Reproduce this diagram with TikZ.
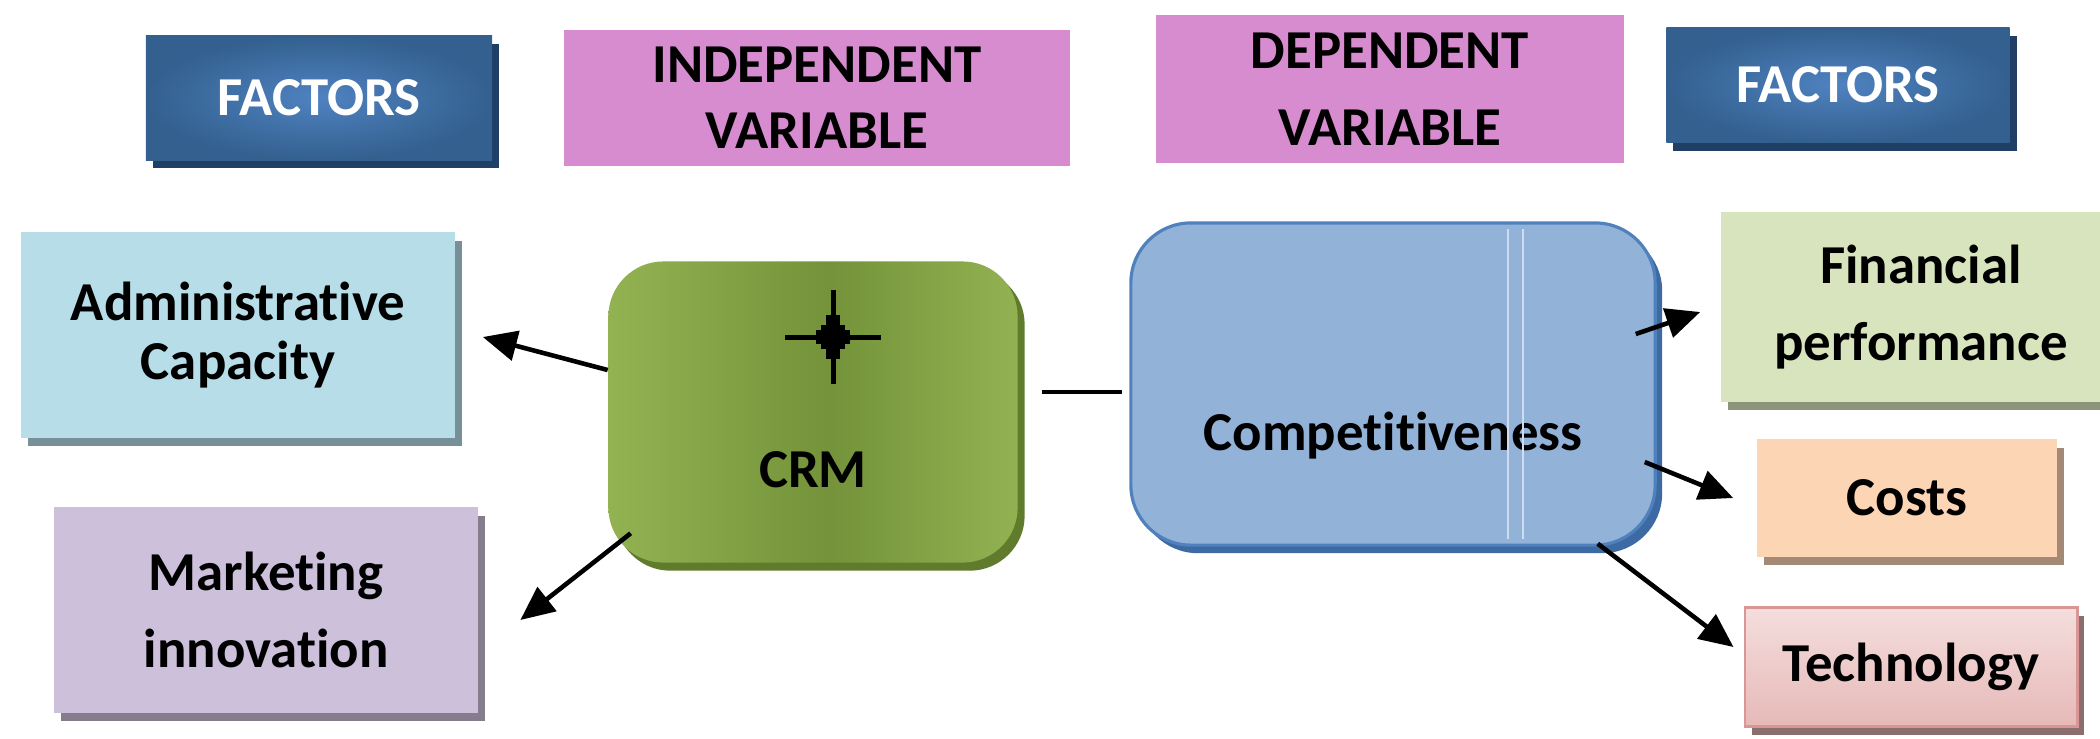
\documentclass[tikz,border=0pt]{standalone}
\usepackage{fontspec}
\setmainfont{Carlito}[Ligatures=NoCommon]
\usepackage{tikz}
\usetikzlibrary{calc,arrows.meta,shadows}
\definecolor{factdark}{HTML}{33608F}
\definecolor{factlight}{HTML}{4F82C0}
\definecolor{factedge}{HTML}{1F3F66}
\definecolor{varpink}{HTML}{D78CD0}
\definecolor{adminblue}{HTML}{B7DDE8}
\definecolor{marklilac}{HTML}{CCC0DA}
\definecolor{crmlight}{HTML}{9BBB59}
\definecolor{crmmid}{HTML}{86A84A}
\definecolor{crmdeep}{HTML}{74933A}
\definecolor{crmdark}{HTML}{5F7B2B}
\definecolor{compblue}{HTML}{93B2D8}
\definecolor{compedge}{HTML}{4F81BD}
\definecolor{compdark}{HTML}{3D6AA3}
\definecolor{fingreen}{HTML}{D7E4BD}
\definecolor{costpeach}{HTML}{FCD5B5}
\definecolor{techpink}{HTML}{E6B9B8}
\definecolor{techlight}{HTML}{F4DEDD}
\definecolor{techedge}{HTML}{D99694}
\pgfdeclarehorizontalshading{crmshade}{100bp}{color(0bp)=(crmmid); color(18bp)=(crmlight); color(52bp)=(crmdeep); color(82bp)=(crmlight); color(100bp)=(crmmid)}
\tikzset{
  lbl/.style={font=\bfseries\fontsize{15.6}{22}\selectfont, align=center, inner sep=0pt},
  shadowed/.style={drop shadow={shadow xshift=2pt, shadow yshift=-2.3pt, fill=#1, opacity=1}},
  factbox/.style={lbl, text=white, inner color=factlight, outer color=factdark, shadowed=factedge},
  varbox/.style={lbl, fill=varpink},
  sidebox/.style={lbl, fill=#1, shadowed=#1!65!black},
  link/.style={line width=1.3pt, -{Triangle[length=0.34cm, width=0.3cm]}},
  joint/.style={line width=1.2pt},
}

\begin{document}
\begin{tikzpicture}[x=0.01cm, y=-0.01cm]
  \useasboundingbox (0,0) rectangle (2100,738);
  \clip (0,0) rectangle (2100,738);

  % headings
  \node[factbox, minimum width=3.46cm, minimum height=1.24cm] (factL) at (319,98) {FACTORS};
  \node[varbox, minimum width=5.05cm, minimum height=1.35cm, font=\bfseries\fontsize{15.6}{18.7}\selectfont] (indep) at (817,98) {INDEPENDENT\\VARIABLE};
  \node[varbox, minimum width=4.67cm, minimum height=1.48cm] (dep) at (1390,89) {DEPENDENT\\VARIABLE};
  \node[factbox, minimum width=3.43cm, minimum height=1.15cm] (factR) at (1838,85) {FACTORS};

  % left factors
  \node[sidebox=adminblue, minimum width=4.34cm, minimum height=2.05cm, font=\bfseries\fontsize{15.6}{17}\selectfont] (admin) at (238,335) {Administrative\\Capacity};
  \node[sidebox=marklilac, minimum width=4.23cm, minimum height=2.05cm] (market) at (266,610) {Marketing\\innovation};

  % variables
  \node[lbl, rounded corners=0.55cm, shade, shading=crmshade, shadowed=crmdark, minimum width=4.09cm, minimum height=3.01cm, text height=1.56cm, text depth=0.06cm] (crm) at (813,412) {CRM};
  \coordinate (crmstar) at ($(crm.center)+(20,-75)$);
  \foreach \w/\h in {48/2.5, 2.5/47, 17/7, 7/22, 12/12}
    \fill ($(crmstar)+(-\w,-\h)$) rectangle ($(crmstar)+(\w,\h)$);

  \node[lbl, rounded corners=0.6cm, fill=compblue, draw=compedge, line width=0.9pt, shadowed=compdark, minimum width=5.24cm, minimum height=3.22cm, text height=1.4cm, text depth=0.08cm] (comp) at (1393,384) {Competitiveness};
  \foreach \dx in {115,130}
    \draw[compblue!45!white, line width=0.8pt] ($(comp.north)+(\dx,8)$) -- ($(comp.south)+(\dx,-8)$);

  % right factors
  \node[sidebox=fingreen, minimum width=4cm, minimum height=1.9cm] (fin) at (1921,307) {Financial\\performance};
  \node[sidebox=costpeach, minimum width=3cm, minimum height=1.17cm] (costs) at (1907,498) {Costs};
  \node[lbl, top color=techlight, bottom color=techpink, draw=techedge, line width=0.8pt, shadowed=techpink!60!black, minimum width=3.32cm, minimum height=1.19cm] (tech) at (1911,667) {Technology};

  % connectors
  \draw[link] ($(crm.west)+(0,-42)$) -- ($(admin.east)+(27,2)$);
  \draw[link] ($(crm.south west)+(23,-30)$) -- ($(market.east)+(42,10)$);
  \draw[joint] ($(crm.east)+(24,-20)$) -- ($(comp.west)+(-7,8)$);
  \draw[link] ($(comp.east)+(-21,-50)$) -- ($(fin.west)+(-20,5)$);
  \draw[link] ($(comp.east)+(-12,78)$) -- ($(costs.west)+(-23,0)$);
  \draw[link] ($(comp.south east)+(-59,-3)$) -- ($(tech.west)+(-10,-20)$);
\end{tikzpicture}
\end{document}
